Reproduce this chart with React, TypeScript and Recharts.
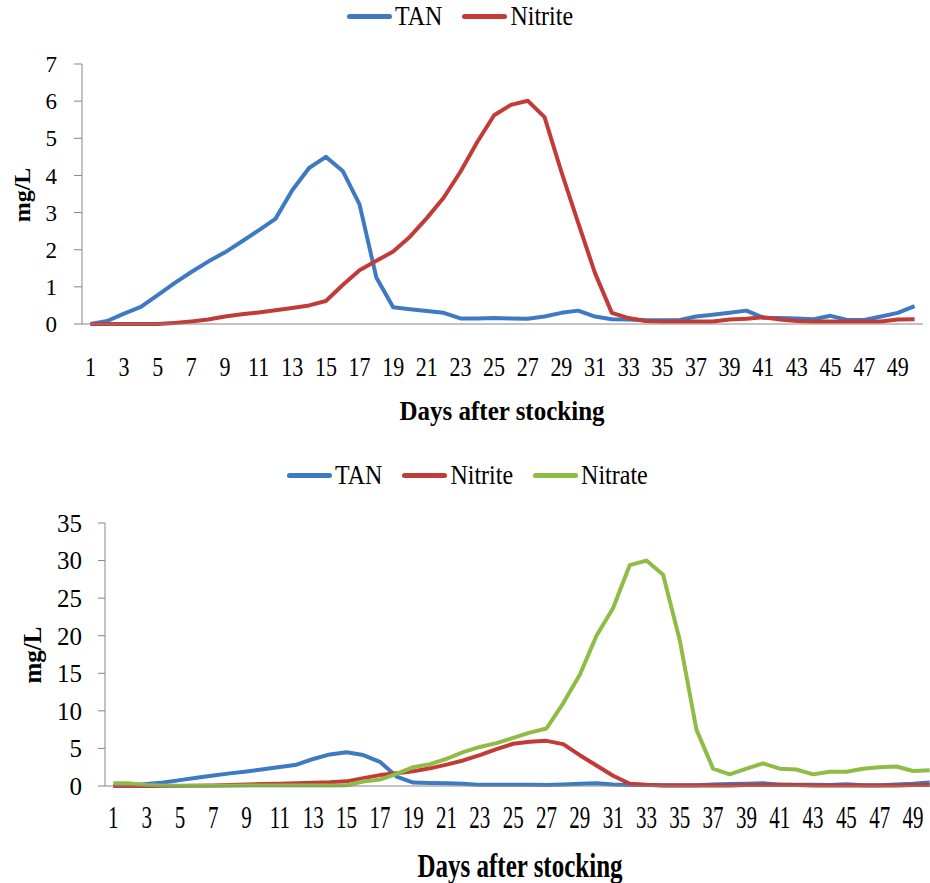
import { LineChart, Line, XAxis, YAxis, Legend } from "recharts";

const days = [
  1, 2, 3, 4, 5, 6, 7, 8, 9, 10, 11, 12, 13, 14, 15, 16, 17, 18, 19, 20, 21, 22, 23, 24, 25,
  26, 27, 28, 29, 30, 31, 32, 33, 34, 35, 36, 37, 38, 39, 40, 41, 42, 43, 44, 45, 46, 47, 48, 49, 50,
];

const tan = [
  0, 0.08, 0.28, 0.46, 0.78, 1.1, 1.4, 1.68, 1.93, 2.22, 2.52, 2.83, 3.6, 4.2, 4.5, 4.12, 3.22, 1.25,
  0.45, 0.4, 0.35, 0.3, 0.15, 0.15, 0.16, 0.15, 0.14, 0.2, 0.3, 0.36, 0.2, 0.13, 0.12, 0.1, 0.1, 0.1,
  0.2, 0.25, 0.3, 0.36, 0.17, 0.16, 0.15, 0.13, 0.22, 0.11, 0.11, 0.2, 0.3, 0.48,
];

const nitrite = [
  0, 0, 0, 0, 0, 0.03, 0.07, 0.12, 0.2, 0.26, 0.31, 0.37, 0.43, 0.5, 0.62, 1.05, 1.45, 1.7, 1.95,
  2.35, 2.85, 3.4, 4.1, 4.9, 5.62, 5.9, 6.01, 5.57, 4.1, 2.72, 1.37, 0.3, 0.16, 0.08, 0.07, 0.07, 0.07,
  0.07, 0.12, 0.14, 0.18, 0.12, 0.08, 0.07, 0.07, 0.07, 0.07, 0.07, 0.12, 0.13,
];

const nitrate = [
  0.35, 0.35, 0.15, 0.05, 0.02, 0.02, 0.02, 0.03, 0.05, 0.05, 0.06, 0.06, 0.07, 0.08, 0.1, 0.6, 0.85,
  1.6, 2.5, 2.9, 3.6, 4.5, 5.2, 5.7, 6.4, 7.1, 7.65, 11.0, 14.8, 20.0, 23.7, 29.4, 30.0, 28.1, 19.4,
  7.5, 2.3, 1.55, 2.3, 3.0, 2.3, 2.2, 1.55, 1.9, 1.9, 2.3, 2.5, 2.6, 2.0, 2.1,
];

const dayLabels = [1, 3, 5, 7, 9, 11, 13, 15, 17, 19, 21, 23, 25, 27, 29, 31, 33, 35, 37, 39, 41, 43, 45, 47, 49];
const topYTicks = [0, 1, 2, 3, 4, 5, 6, 7];
const bottomYTicks = [0, 5, 10, 15, 20, 25, 30, 35];

const data = days.map((d, i) => ({ day: d, tan: tan[i], nitrite: nitrite[i], nitrate: nitrate[i] }));
// tick marks sit between the days, like Excel's category axis
const markTicks = days.map((d) => d - 0.5).concat([50.5]);

const FONT = "Liberation Serif";
const AXIS = "#868686";
const BLUE = "#3d7ac3";
const RED = "#c33b37";
const GREEN = "#8fbc45";

const StretchTick = (props: any) => {
  const { x, y, payload, dy, sy, size } = props;
  return (
    <text
      transform={`translate(${x},${y + dy}) scale(1,${sy})`}
      textAnchor="middle"
      dominantBaseline="central"
      fontSize={size}
      fontFamily={FONT}
      fill="#000"
    >
      {payload.value}
    </text>
  );
};

const LegendBox = ({ items }: { items: { name: string; color: string }[] }) => (
  <div style={{ display: "flex", alignItems: "center", fontFamily: FONT, fontSize: 24, color: "#000", whiteSpace: "nowrap" }}>
    {items.map((it) => (
      <div key={it.name} style={{ display: "flex", alignItems: "center", marginRight: 20 }}>
        <span style={{ display: "inline-block", width: 45, height: 5, borderRadius: 3, background: it.color, marginRight: 3 }} />
        <span style={{ display: "inline-block", transform: "scaleY(1.15)" }}>{it.name}</span>
      </div>
    ))}
  </div>
);

const App = () => {
  return (
    <div style={{ position: "absolute", left: 0, top: 0, width: 930, height: 883, overflow: "hidden", background: "#fff" }}>
      {/* top chart */}
      <div style={{ position: "absolute", left: 0, top: 0 }}>
        <LineChart width={930} height={440} data={data} margin={{ top: 64, right: 7, bottom: 0, left: 0 }}>
          <XAxis
            xAxisId="b"
            dataKey="day"
            type="number"
            domain={[0.5, 50.5]}
            ticks={dayLabels}
            allowDataOverflow
            axisLine={false}
            tickLine={false}
            tickSize={0}
            tickMargin={0}
            height={108}
            interval={0}
            tick={(p: any) => <StretchTick {...p} dy={35} sy={1.2} size={22} />}
          />
          <XAxis
            xAxisId="a"
            dataKey="day"
            type="number"
            domain={[0.5, 50.5]}
            ticks={markTicks}
            allowDataOverflow
            tick={false}
            tickSize={7}
            height={8}
            stroke={AXIS}
          />
          <YAxis
            domain={[0, 7]}
            ticks={topYTicks}
            width={82}
            tickSize={8}
            tickMargin={17}
            stroke={AXIS}
            tick={{ fontSize: 23, fontFamily: FONT, fill: "#000" }}
          />
          <Legend
            layout="horizontal"
            verticalAlign="middle"
            align="center"
            wrapperStyle={{ position: "absolute", top: 3, left: 347, width: "auto" }}
            content={() => (
              <LegendBox
                items={[
                  { name: "TAN", color: BLUE },
                  { name: "Nitrite", color: RED },
                ]}
              />
            )}
          />
          <Line xAxisId="a" type="linear" dataKey="tan" name="TAN" stroke={BLUE} strokeWidth={4} dot={false} strokeLinejoin="round" isAnimationActive={false} />
          <Line xAxisId="a" type="linear" dataKey="nitrite" name="Nitrite" stroke={RED} strokeWidth={4} dot={false} strokeLinejoin="round" isAnimationActive={false} />
        </LineChart>
      </div>

      {/* bottom chart */}
      <div style={{ position: "absolute", left: 0, top: 440 }}>
        <LineChart width={938} height={443} data={data} margin={{ top: 83, right: 0, bottom: 0, left: 0 }}>
          <XAxis
            xAxisId="b"
            dataKey="day"
            type="number"
            domain={[0.5, 50.5]}
            ticks={dayLabels}
            allowDataOverflow
            axisLine={false}
            tickLine={false}
            tickSize={0}
            tickMargin={0}
            height={89}
            interval={0}
            tick={(p: any) => <StretchTick {...p} dy={23} sy={1.5} size={21} />}
          />
          <XAxis
            xAxisId="a"
            dataKey="day"
            type="number"
            domain={[0.5, 50.5]}
            ticks={markTicks}
            allowDataOverflow
            tick={false}
            tickSize={7}
            height={8}
            stroke={AXIS}
          />
          <YAxis
            domain={[0, 35]}
            ticks={bottomYTicks}
            width={105}
            tickSize={7}
            tickMargin={16}
            stroke={AXIS}
            tick={{ fontSize: 25, fontFamily: FONT, fill: "#000" }}
          />
          <Legend
            layout="horizontal"
            verticalAlign="middle"
            align="center"
            wrapperStyle={{ position: "absolute", top: 22, left: 287, width: "auto" }}
            content={() => (
              <LegendBox
                items={[
                  { name: "TAN", color: BLUE },
                  { name: "Nitrite", color: RED },
                  { name: "Nitrate", color: GREEN },
                ]}
              />
            )}
          />
          <Line xAxisId="a" type="linear" dataKey="tan" name="TAN" stroke={BLUE} strokeWidth={4} dot={false} strokeLinejoin="round" isAnimationActive={false} />
          <Line xAxisId="a" type="linear" dataKey="nitrite" name="Nitrite" stroke={RED} strokeWidth={4} dot={false} strokeLinejoin="round" isAnimationActive={false} />
          <Line xAxisId="a" type="linear" dataKey="nitrate" name="Nitrate" stroke={GREEN} strokeWidth={4} dot={false} strokeLinejoin="round" isAnimationActive={false} />
        </LineChart>
      </div>

      {/* axis titles */}
      <div style={{ position: "absolute", left: 302, top: 396, width: 400, textAlign: "center", fontFamily: FONT, fontWeight: "bold", fontSize: 25, lineHeight: "30px", transform: "scaleY(1.1)" }}>
        Days after stocking
      </div>
      <div style={{ position: "absolute", left: 320, top: 851, width: 400, textAlign: "center", fontFamily: FONT, fontWeight: "bold", fontSize: 25, lineHeight: "30px", transform: "scaleY(1.35)" }}>
        Days after stocking
      </div>
      <div style={{ position: "absolute", left: 22 - 40, top: 195 - 15, width: 80, height: 30, lineHeight: "30px", textAlign: "center", fontFamily: FONT, fontWeight: "bold", fontSize: 24, transform: "rotate(-90deg)" }}>
        mg/L
      </div>
      <div style={{ position: "absolute", left: 33 - 40, top: 655 - 15, width: 80, height: 30, lineHeight: "30px", textAlign: "center", fontFamily: FONT, fontWeight: "bold", fontSize: 25, transform: "rotate(-90deg)" }}>
        mg/L
      </div>
    </div>
  );
};

export default App;
